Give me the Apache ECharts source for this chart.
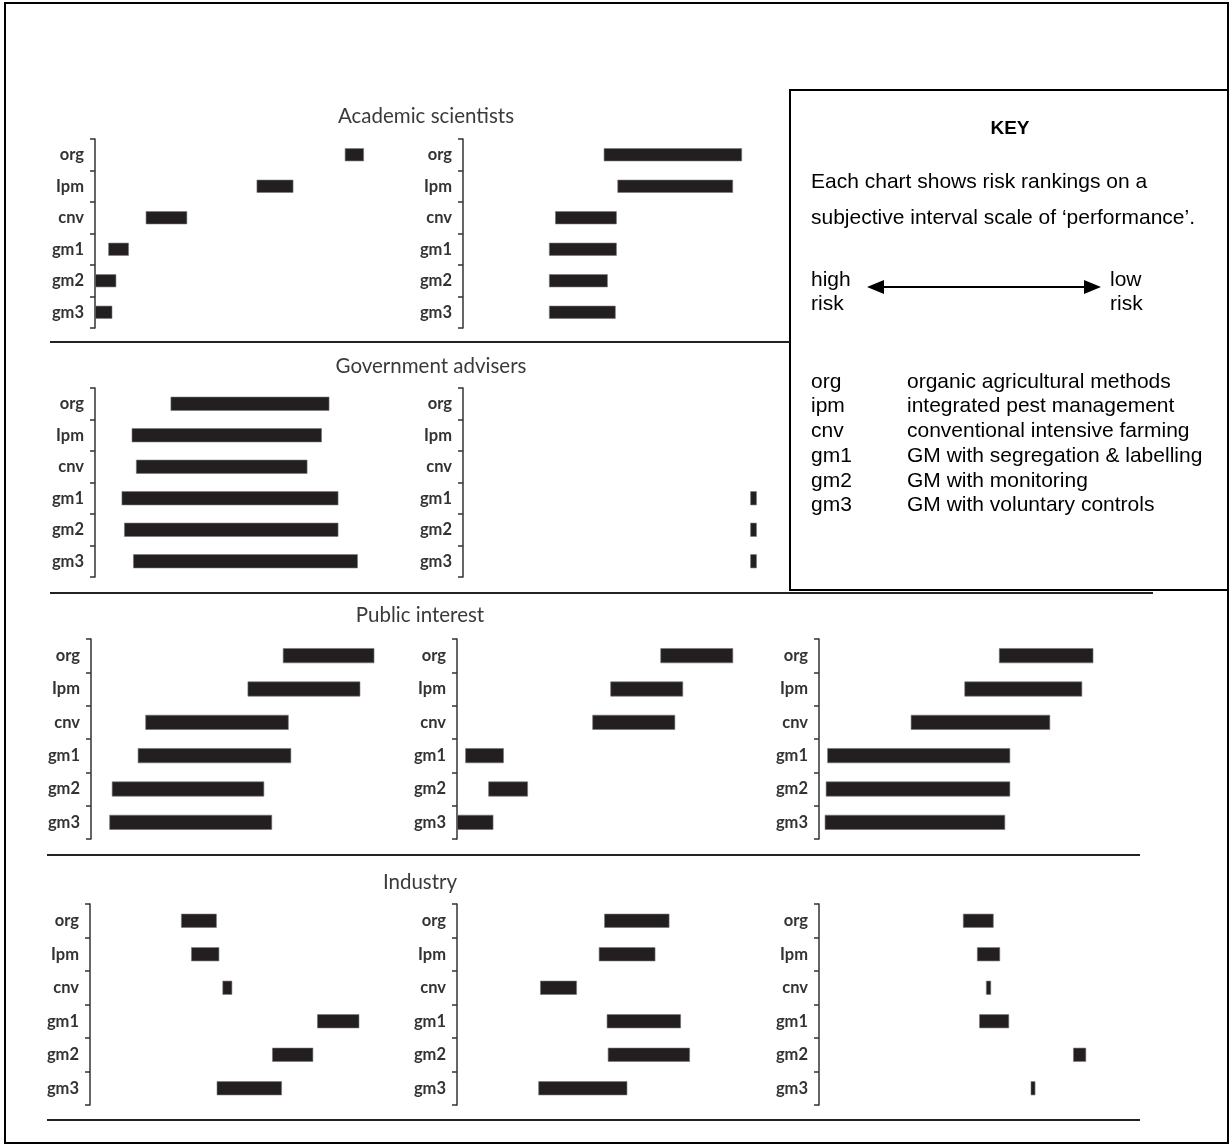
<!DOCTYPE html>
<html>
<head>
<meta charset="utf-8">
<script src="https://cdn.jsdelivr.net/npm/echarts@6/dist/echarts.min.js"></script>
<style>
html,body{margin:0;padding:0;background:#fff;}
#chart{width:1231px;height:1147px;}
</style>
</head>
<body>
<div id="chart"></div>
<script>
// ---------- DATA ----------
const categories = ['org', 'Ipm', 'cnv', 'gm1', 'gm2', 'gm3'];
const sectionTitles = ['Academic scientists', 'Government advisers', 'Public interest', 'Industry'];

// Each panel: start and end of interval (subjective 0-100 performance scale)
const acad1Start = [69.4, 44.9, 14.1, 3.7, 0.0, 0.0];
const acad1End   = [74.7, 55.1, 25.6, 9.4, 5.9, 4.8];
const acad2Start = [39.1, 42.9, 25.6, 23.9, 23.9, 23.9];
const acad2End   = [77.5, 75.0, 42.7, 42.7, 40.2, 42.4];

const gov1Start = [21.0, 10.2, 11.4, 7.4, 8.1, 10.6];
const gov1End   = [65.1, 63.0, 59.0, 67.6, 67.6, 73.0];
const gov2Start = [null, null, null, 79.8, 79.8, 79.8];
const gov2End   = [null, null, null, 81.6, 81.6, 81.6];

const pub1Start = [53.3, 43.5, 15.1, 13.0, 5.8, 5.1];
const pub1End   = [78.7, 74.8, 54.9, 55.6, 48.1, 50.3];
const pub2Start = [56.5, 42.6, 37.6, 2.3, 8.7, 0.0];
const pub2End   = [76.7, 62.8, 60.6, 13.0, 19.7, 10.1];
const pub3Start = [50.0, 40.4, 25.5, 2.3, 1.9, 1.6];
const pub3End   = [76.2, 73.1, 64.2, 53.1, 53.1, 51.7];

const ind1Start = [25.3, 28.1, 36.8, 63.1, 50.6, 35.2];
const ind1End   = [35.2, 35.9, 39.5, 74.8, 62.0, 53.3];
const ind2Start = [40.9, 39.4, 23.1, 41.6, 41.9, 22.6];
const ind2End   = [59.0, 55.1, 33.3, 62.2, 64.7, 47.3];
const ind3Start = [40.0, 43.9, 46.4, 44.5, 70.6, 58.8];
const ind3End   = [48.5, 50.3, 47.8, 52.8, 74.2, 60.1];

const keyCodes = ['org', 'ipm', 'cnv', 'gm1', 'gm2', 'gm3'];
const keyDescriptions = ['organic agricultural methods', 'integrated pest management',
  'conventional intensive farming', 'GM with segregation & labelling',
  'GM with monitoring', 'GM with voluntary controls'];

// ---------- LAYOUT ----------
const panels = [
  {s: acad1Start, e: acad1End, left: 95,  top: 139, h: 189, bw: 13},
  {s: acad2Start, e: acad2End, left: 463, top: 139, h: 189, bw: 13},
  {s: gov1Start,  e: gov1End,  left: 95,  top: 388, h: 189, bw: 14},
  {s: gov2Start,  e: gov2End,  left: 463, top: 388, h: 189, bw: 14},
  {s: pub1Start,  e: pub1End,  left: 91,  top: 639, h: 200, bw: 15},
  {s: pub2Start,  e: pub2End,  left: 457, top: 639, h: 200, bw: 15},
  {s: pub3Start,  e: pub3End,  left: 819, top: 639, h: 200, bw: 15},
  {s: ind1Start,  e: ind1End,  left: 90,  top: 904, h: 201, bw: 14},
  {s: ind2Start,  e: ind2End,  left: 457, top: 904, h: 201, bw: 14},
  {s: ind3Start,  e: ind3End,  left: 819, top: 904, h: 201, bw: 14}
];
const PANEL_W = 360;
const INK = '#231f20';

const grid = [], xAxis = [], yAxis = [], series = [];
panels.forEach((p, i) => {
  grid.push({left: p.left, top: p.top, width: PANEL_W, height: p.h});
  xAxis.push({type: 'value', gridIndex: i, min: 0, max: 100, show: false});
  yAxis.push({
    type: 'category', gridIndex: i, data: categories, inverse: true,
    axisLine: {show: true, lineStyle: {color: '#333', width: 1.5}},
    axisTick: {show: true, length: 5, lineStyle: {color: '#333', width: 1.5}},
    axisLabel: {fontFamily: 'Lato', fontWeight: 'bold', fontSize: 16.5, color: '#333', margin: 11},
    splitLine: {show: false}
  });
  series.push({
    type: 'bar', xAxisIndex: i, yAxisIndex: i, stack: 'p' + i, barWidth: p.bw,
    data: p.s, itemStyle: {color: 'rgba(0,0,0,0)'}, silent: true
  });
  series.push({
    type: 'bar', xAxisIndex: i, yAxisIndex: i, stack: 'p' + i, barWidth: p.bw,
    data: p.e.map((v, k) => (v == null || p.s[k] == null) ? null : +(v - p.s[k]).toFixed(2)),
    itemStyle: {color: INK, borderColor: '#777', borderWidth: 0.6}, silent: true
  });
});

// ---------- DECORATION ----------
const titlePos = [[426, 116], [431, 366], [420, 615], [420, 882]];
const graphics = [];
titlePos.forEach((pos, i) => {
  graphics.push({type: 'text', x: pos[0], y: pos[1], silent: true,
    style: {text: sectionTitles[i], fill: '#3a3a3a', font: '20.5px Lato', align: 'center', verticalAlign: 'middle'}});
});
// outer frame
graphics.push({type: 'rect', shape: {x: 5, y: 3, width: 1223, height: 1140}, silent: true,
  style: {fill: null, stroke: '#000', lineWidth: 2}});
// key box
graphics.push({type: 'rect', shape: {x: 790, y: 90, width: 438, height: 500}, silent: true,
  style: {fill: null, stroke: '#000', lineWidth: 2}});
// dividers
[[50, 342, 790], [50, 593, 1153], [47, 855, 1140], [47, 1120, 1140]].forEach(d => {
  graphics.push({type: 'line', shape: {x1: d[0], y1: d[1], x2: d[2], y2: d[1]}, silent: true,
    style: {stroke: '#222', lineWidth: 2}});
});
// key texts
const keyFont = '21px "Liberation Sans", Arial, sans-serif';
graphics.push({type: 'text', x: 1010, y: 129, silent: true,
  style: {text: 'KEY', font: 'bold 19px "Liberation Sans", Arial, sans-serif', fill: '#000', align: 'center', verticalAlign: 'middle'}});
graphics.push({type: 'text', x: 811, y: 182, silent: true,
  style: {text: 'Each chart shows risk rankings on a', font: keyFont, fill: '#000', verticalAlign: 'middle'}});
graphics.push({type: 'text', x: 811, y: 218, silent: true,
  style: {text: 'subjective interval scale of \u2018performance\u2019.', font: keyFont, fill: '#000', verticalAlign: 'middle'}});
graphics.push({type: 'text', x: 811, y: 280, silent: true,
  style: {text: 'high', font: keyFont, fill: '#000', verticalAlign: 'middle'}});
graphics.push({type: 'text', x: 811, y: 304, silent: true,
  style: {text: 'risk', font: keyFont, fill: '#000', verticalAlign: 'middle'}});
graphics.push({type: 'text', x: 1110, y: 280, silent: true,
  style: {text: 'low', font: keyFont, fill: '#000', verticalAlign: 'middle'}});
graphics.push({type: 'text', x: 1110, y: 304, silent: true,
  style: {text: 'risk', font: keyFont, fill: '#000', verticalAlign: 'middle'}});
// arrow
graphics.push({type: 'line', shape: {x1: 878, y1: 287, x2: 1090, y2: 287}, silent: true,
  style: {stroke: '#000', lineWidth: 2}});
graphics.push({type: 'polygon', shape: {points: [[867, 287], [884, 280], [884, 294]]}, silent: true,
  style: {fill: '#000'}});
graphics.push({type: 'polygon', shape: {points: [[1101, 287], [1084, 280], [1084, 294]]}, silent: true,
  style: {fill: '#000'}});
keyCodes.forEach((c, i) => {
  const y = 382 + i * 24.7;
  graphics.push({type: 'text', x: 811, y: y, silent: true,
    style: {text: c, font: keyFont, fill: '#000', verticalAlign: 'middle'}});
  graphics.push({type: 'text', x: 907, y: y, silent: true,
    style: {text: keyDescriptions[i], font: keyFont, fill: '#000', verticalAlign: 'middle'}});
});

const chart = echarts.init(document.getElementById('chart'), null, {renderer: 'canvas'});
chart.setOption({
  animation: false,
  backgroundColor: '#fff',
  grid, xAxis, yAxis, series,
  graphic: graphics
});
</script>
</body>
</html>
